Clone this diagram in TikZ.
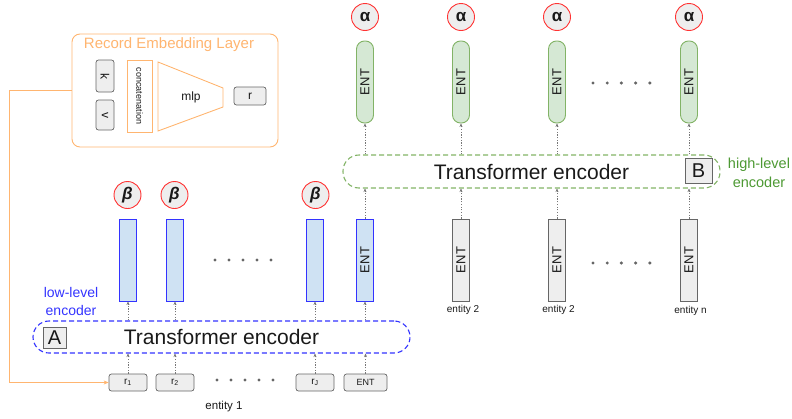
\documentclass[tikz,border=0pt]{standalone}
\usepackage{fontspec}
\setmainfont{Liberation Sans}
\usetikzlibrary{arrows.meta, positioning, shapes.geometric}

\definecolor{embor}{HTML}{FFB570}
\definecolor{boxgray}{HTML}{666666}
\definecolor{boxfill}{HTML}{EEEEEE}
\definecolor{lowblue}{HTML}{3333FF}
\definecolor{lowfill}{HTML}{CFE2F3}
\definecolor{highgreen}{HTML}{82B366}
\definecolor{highfill}{HTML}{D5E8D4}
\definecolor{hightext}{HTML}{4D9933}
\definecolor{wred}{HTML}{FF3333}
\definecolor{arrowgray}{HTML}{777777}

\begin{document}
\begin{tikzpicture}[
    x=1pt, y=-1pt,
    every node/.style = {inner sep=0pt, text=black!90},
    embline/.style  = {draw=embor, line width=0.9pt},
    embbox/.style   = {rectangle, embline, rounded corners=8pt,
                       minimum width=206pt, minimum height=113pt},
    smallbox/.style = {rectangle, draw=boxgray, fill=boxfill, rounded corners=2.5pt,
                       minimum width=38pt, minimum height=17pt, line width=0.7pt,
                       font=\fontsize{10}{12}\selectfont},
    bar/.style      = {rectangle, rotate=90, minimum width=82pt, minimum height=17pt,
                       line width=0.9pt, font=\fontsize{13}{15}\selectfont},
    lowbar/.style   = {bar, draw=lowblue, fill=lowfill},
    entbar/.style   = {bar, draw=boxgray, fill=boxfill},
    highbar/.style  = {bar, draw=highgreen, fill=highfill, rounded corners=8pt},
    weight/.style   = {circle, draw=wred, fill=boxfill, minimum size=27pt,
                       line width=0.9pt, font=\fontsize{17}{17}\selectfont\bfseries},
    encoder/.style  = {rectangle, rounded corners=16pt, line width=1.1pt,
                       dash pattern=on 5pt off 3pt,
                       minimum width=377pt, minimum height=32pt,
                       font=\fontsize{21}{24}\selectfont},
    tag/.style      = {rectangle, draw=boxgray, fill=boxfill, line width=0.9pt,
                       font=\fontsize{20}{24}\selectfont},
    entity/.style   = {font=\fontsize{10}{12}\selectfont},
    dotarrow/.style = {-{Stealth[length=3.5pt,width=3pt]}, draw=arrowgray,
                       dash pattern=on 1.2pt off 1.5pt},
    dotfill/.style  = {fill=black!60}
  ]
  \useasboundingbox (0,0) rectangle (792,418);

  % record embedding layer
  \node[embbox] (emb) at (175,90.5) {};
  \node[text=embor, font=\fontsize{15}{17}\selectfont] (embtitle) at (169,45)
       {Record Embedding Layer};
  \node[smallbox, rotate=-90, minimum width=32pt, minimum height=18pt,
        font=\fontsize{12}{14}\selectfont] (key) at (105,76) {k};
  \node[smallbox, rotate=-90, minimum width=30pt, minimum height=18pt,
        font=\fontsize{12}{14}\selectfont] (val) at (105,115) {v};
  \node[rectangle, embline, rotate=-90, minimum width=72pt, minimum height=25pt,
        font=\fontsize{9}{10}\selectfont] (concat) at (139.5,96) {concatenation};
  \draw[embline] (158,62) -- (223,88) -- (223,107) -- (158,131) -- cycle;
  \node[font=\fontsize{12}{14}\selectfont] (mlp) at (191,97) {mlp};
  \node[smallbox, minimum width=32pt, minimum height=18pt,
        font=\fontsize{12}{14}\selectfont] (rec) at (250,96) {r};

  % low-level: records of entity 1
  \node[smallbox] (rec1) at (128,382.5) {r\textsubscript{1}};
  \node[smallbox] (rec2) at (175,382.5) {r\textsubscript{2}};
  \node[smallbox] (rec3) at (315,382.5) {r\textsubscript{J}};
  \node[smallbox, minimum width=43pt, font=\fontsize{9}{11}\selectfont] (rec4)
       at (365.5,382.5) {ENT};
  \node[entity, font=\fontsize{11.5}{13}\selectfont] (ent1lab) at (224,407) {entity 1};
  \foreach \i in {0,...,4}
    \fill[dotfill] (217+14*\i,380) circle (1.7);

  \draw[embline, -{Stealth[length=5pt,width=4pt]}] (emb.west) -- ++(-62,0) |- (rec1.west);

  \node[encoder, draw=lowblue] (encA) at (221.5,337) {Transformer encoder};
  \node[tag, minimum width=23pt, minimum height=21pt] (tagA) at (54.5,337.5) {A};
  \node[align=center, text=lowblue, font=\fontsize{14}{18}\selectfont] (lowlab)
       at (71,301) {low-level\\encoder};

  % bars: rotated, so .east is the top and .west the bottom
  \node[lowbar] (low1) at (128,260) {};
  \node[lowbar] (low2) at (175,260) {};
  \node[lowbar] (low3) at (315,260) {};
  \node[lowbar] (low4) at (365,260) {ENT};
  \foreach \i in {0,...,4}
    \fill[dotfill] (215+14*\i,260) circle (1.7);

  \node[weight] (beta1) at (127.5,195) {\itshape β};
  \node[weight] (beta2) at (174.5,195) {\itshape β};
  \node[weight] (beta3) at (315.5,195) {\itshape β};

  \foreach \n in {1,...,4}{
    \draw[dotarrow] (rec\n.north) -- (rec\n.north |- encA.south);
    \draw[dotarrow] (low\n.west |- encA.north) -- (low\n.west);
  }

  % high-level: entities
  \node[entbar] (ent2) at (461,260) {ENT};
  \node[entbar] (ent3) at (557,260) {ENT};
  \node[entbar] (ent4) at (689,260) {ENT};
  \foreach \i in {0,...,4}
    \fill[dotfill] (593+14.2*\i,263) circle (1.7);
  \node[entity] (ent2lab) at (463,310) {entity 2};
  \node[entity] (ent3lab) at (558.5,310) {entity 2};
  \node[entity] (ent4lab) at (690.5,311) {entity n};

  \node[encoder, draw=highgreen, minimum height=33pt] (encB) at (531.5,171.5)
       {Transformer encoder};
  \node[tag, minimum width=27pt, minimum height=25pt] (tagB) at (698.5,170.5) {B};
  \node[align=center, text=hightext, font=\fontsize{14.5}{19}\selectfont] (highlab)
       at (759,172.5) {high-level\\encoder};

  \node[highbar] (high1) at (365,82) {ENT};
  \node[highbar] (high2) at (461,82) {ENT};
  \node[highbar] (high3) at (557,82) {ENT};
  \node[highbar] (high4) at (689,82) {ENT};
  \foreach \i in {0,...,4}
    \fill[dotfill] (593+14.2*\i,83) circle (1.7);

  \foreach \n/\x in {1/365, 2/461, 3/557, 4/689}
    \node[weight] (alpha\n) at (\x,17) {α};

  \draw[dotarrow] (low4.east) -- (low4.east |- encB.south);
  \foreach \n in {2,3,4}
    \draw[dotarrow] (ent\n.east) -- (ent\n.east |- encB.south);
  \foreach \n in {1,...,4}
    \draw[dotarrow] (high\n.west |- encB.north) -- (high\n.west);

\end{tikzpicture}
\end{document}
